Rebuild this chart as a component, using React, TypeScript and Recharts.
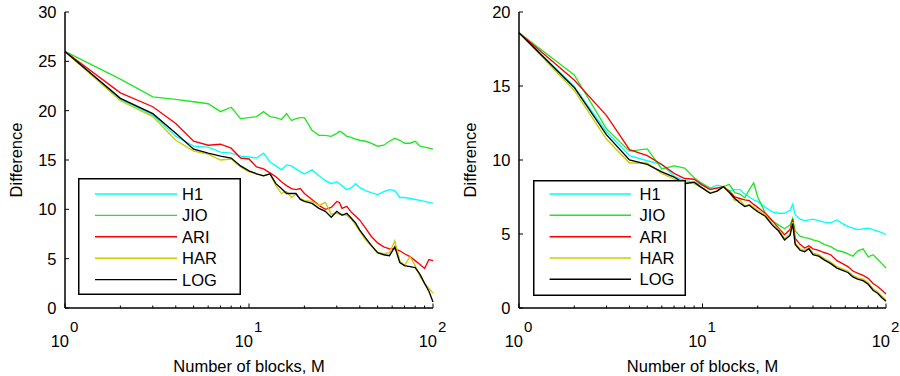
import React from 'react';
import { LineChart, Line, XAxis, YAxis, Legend } from 'recharts';

const FONT = "'Liberation Sans', Arial, Helvetica, sans-serif";

const M_VALUES = [1, 2, 3, 4, 5, 6, 7, 8, 9, 10, 11, 12, 13, 14, 15, 16, 17, 18, 19, 20, 22, 24, 26, 28, 30, 31, 32, 34, 36, 38, 40, 43, 46, 50, 54, 58, 62, 66, 70, 75, 80, 85, 90, 95, 100];

const LEFT_H1 = [26.0, 21.15, 19.55, 17.4, 16.4, 16.3, 15.8, 15.7, 15.4, 15.3, 15.2, 15.7, 14.8, 14.4, 14.0, 14.5, 14.4, 14.1, 13.8, 13.6, 14.0, 13.4, 12.9, 12.6, 12.8, 12.6, 12.4, 12.0, 12.2, 12.6, 12.2, 11.9, 11.7, 11.5, 11.8, 12.0, 11.9, 11.2, 11.2, 11.1, 11.0, 10.9, 10.8, 10.7, 10.6];
const LEFT_JIO = [26.0, 23.2, 21.4, 21.15, 20.9, 20.7, 19.9, 20.35, 19.2, 19.3, 19.4, 19.9, 19.4, 19.3, 19.1, 19.7, 19.0, 19.2, 19.3, 19.3, 18.0, 17.5, 17.5, 17.4, 17.7, 17.9, 17.8, 17.4, 17.3, 17.1, 17.0, 16.9, 16.7, 16.4, 16.5, 16.9, 17.2, 17.0, 16.7, 16.7, 16.9, 16.4, 16.3, 16.2, 16.1];
const LEFT_ARI = [26.0, 21.8, 20.4, 18.7, 16.9, 16.5, 16.6, 16.2, 15.2, 15.1, 14.3, 14.1, 13.7, 13.3, 12.8, 12.4, 12.1, 12.0, 12.1, 11.6, 11.0, 10.4, 10.0, 10.2, 10.8, 10.7, 10.1, 10.3, 9.7, 9.3, 8.9, 8.1, 7.3, 6.6, 6.2, 6.0, 6.0, 5.8, 5.5, 5.2, 4.8, 4.4, 4.0, 4.9, 4.8];
const LEFT_HAR = [26.0, 21.0, 19.4, 17.0, 15.9, 15.6, 15.0, 15.1, 14.3, 13.8, 13.6, 13.4, 13.6, 12.4, 11.6, 11.8, 11.2, 11.5, 11.1, 10.9, 10.8, 10.4, 10.7, 9.5, 9.6, 9.5, 9.5, 9.4, 9.0, 8.4, 7.8, 6.9, 6.3, 5.6, 5.5, 5.6, 6.8, 4.8, 4.3, 5.2, 4.3, 3.2, 2.5, 2.0, 1.5];
const LEFT_LOG = [26.0, 21.25, 19.7, 17.7, 16.1, 15.7, 15.4, 15.2, 14.4, 13.9, 13.6, 13.4, 13.6, 12.6, 12.1, 11.6, 11.6, 11.6, 11.0, 10.8, 10.6, 10.1, 9.8, 9.2, 9.8, 9.6, 9.4, 9.6, 9.1, 8.6, 7.9, 7.1, 6.4, 5.6, 5.4, 5.3, 6.2, 4.6, 4.3, 4.2, 4.1, 3.4, 2.5, 1.7, 0.6];

const RIGHT_H1 = [18.6, 14.95, 11.9, 10.3, 9.95, 9.7, 8.9, 8.6, 8.5, 8.3, 8.1, 8.3, 8.2, 7.9, 8.0, 8.0, 7.7, 7.5, 7.3, 7.2, 6.8, 6.5, 6.4, 6.4, 6.6, 7.0, 6.3, 6.0, 5.9, 5.95, 6.0, 5.9, 5.8, 5.75, 5.95, 5.7, 5.5, 5.4, 5.3, 5.35, 5.4, 5.3, 5.2, 5.1, 4.95];
const RIGHT_JIO = [18.6, 15.75, 12.1, 10.6, 10.75, 9.4, 9.6, 9.45, 8.8, 8.4, 8.1, 8.1, 8.2, 8.35, 7.8, 7.7, 7.45, 8.0, 8.45, 7.5, 6.4, 5.9, 5.6, 5.35, 5.6, 6.05, 5.2, 4.85, 4.75, 4.7, 4.6, 4.5, 4.3, 4.15, 3.9, 3.8, 3.65, 3.5, 3.85, 4.0, 3.45, 3.6, 3.3, 3.0, 2.7];
const RIGHT_ARI = [18.6, 15.4, 13.0, 10.7, 10.3, 9.7, 9.1, 8.75, 8.7, 8.3, 8.0, 8.1, 8.2, 7.9, 7.5, 7.4, 7.3, 7.25, 7.0, 6.8, 6.4, 5.9, 5.4, 4.95, 5.3, 6.0, 4.7, 4.3, 4.05, 4.2, 4.0, 3.9, 3.75, 3.6, 3.2, 3.0, 2.8, 2.5, 2.35, 2.2, 2.0, 1.65, 1.45, 1.2, 0.95];
const RIGHT_HAR = [18.6, 14.7, 11.4, 9.8, 9.8, 9.1, 8.7, 8.5, 8.4, 8.1, 7.8, 7.9, 8.2, 7.85, 7.25, 7.3, 6.9, 7.0, 6.8, 6.6, 6.3, 5.7, 5.3, 4.7, 5.0, 5.8, 4.4, 4.0, 3.9, 4.1, 3.7, 3.6, 3.35, 3.1, 2.8, 2.65, 2.5, 2.2, 2.05, 1.95, 1.7, 1.3, 1.1, 0.8, 0.55];
const RIGHT_LOG = [18.6, 14.9, 11.7, 10.0, 9.7, 9.2, 8.85, 8.4, 8.5, 8.1, 7.75, 7.9, 8.2, 7.8, 7.4, 7.1, 6.85, 6.95, 6.7, 6.5, 6.2, 5.6, 5.2, 4.6, 4.9, 5.7, 4.3, 3.9, 3.8, 4.0, 3.6, 3.5, 3.25, 3.0, 2.7, 2.55, 2.4, 2.1, 1.95, 1.85, 1.6, 1.2, 1.0, 0.7, 0.45];

const X_TICKS = [1, 2, 3, 4, 5, 6, 7, 8, 9, 10, 20, 30, 40, 50, 60, 70, 80, 90, 100];
const X_MAJOR = [1, 10, 100];
const LEFT_Y_TICKS = [0, 5, 10, 15, 20, 25, 30];
const RIGHT_Y_TICKS = [0, 5, 10, 15, 20];

const SERIES_NAMES = ['H1', 'JIO', 'ARI', 'HAR', 'LOG'];
const SERIES_KEYS = ['h1', 'jio', 'ari', 'har', 'log'];
const SERIES_COLORS = ['#00ffff', '#22e622', '#ff0000', '#cccc00', '#000000'];

const X_TITLE = 'Number of blocks, M';
const Y_TITLE = 'Difference';

function buildRows(series: number[][]) {
  return M_VALUES.map((m, i) => {
    const row: any = { m };
    SERIES_KEYS.forEach((k, j) => {
      row[k] = series[j][i];
    });
    return row;
  });
}

const LEFT_DATA = buildRows([LEFT_H1, LEFT_JIO, LEFT_ARI, LEFT_HAR, LEFT_LOG]);
const RIGHT_DATA = buildRows([RIGHT_H1, RIGHT_JIO, RIGHT_ARI, RIGHT_HAR, RIGHT_LOG]);

const AXIS_LINE = { stroke: '#000', strokeWidth: 1.5 };

function BottomTick(props: any) {
  const { x, y, payload } = props;
  const v = payload.value;
  const major = X_MAJOR.includes(v);
  const len = major ? 4.5 : 2.5;
  return (
    <g>
      <line x1={x} x2={x} y1={y} y2={y - len} stroke="#000" strokeWidth={1} />
      {major && (
        <g fontFamily={FONT} fill="#000">
          <text x={x + 4} y={y + 39} textAnchor="end" fontSize={16.5}>10</text>
          <text x={x + 5} y={y + 24} textAnchor="start" fontSize={15}>{Math.round(Math.log10(v))}</text>
        </g>
      )}
    </g>
  );
}

function TopTick(props: any) {
  const { x, y, payload } = props;
  const major = X_MAJOR.includes(payload.value);
  const len = major ? 4.5 : 2.5;
  return <line x1={x} x2={x} y1={y} y2={y + len} stroke="#000" strokeWidth={1} />;
}

function LeftTick(props: any) {
  const { x, y, payload } = props;
  return (
    <g>
      <line x1={x} x2={x + 4} y1={y} y2={y} stroke="#000" strokeWidth={1} />
      <text x={x - 8.5} y={y} dy="0.36em" textAnchor="end" fontSize={16.5} fontFamily={FONT} fill="#000">
        {payload.value}
      </text>
    </g>
  );
}

function RightTick(props: any) {
  const { x, y } = props;
  return <line x1={x} x2={x - 4} y1={y} y2={y} stroke="#000" strokeWidth={1} />;
}

function XTitle(props: any) {
  const vb = props.viewBox || {};
  return (
    <text x={vb.x + vb.width / 2} y={vb.y + 64} textAnchor="middle" fontSize={16.5} fontFamily={FONT} fill="#000">
      {X_TITLE}
    </text>
  );
}

function YTitle(props: any) {
  const vb = props.viewBox || {};
  const cx = vb.x + vb.width - 43;
  const cy = vb.y + vb.height / 2;
  return (
    <text x={cx} y={cy} transform={`rotate(-90 ${cx} ${cy})`} textAnchor="middle" fontSize={16.5} fontFamily={FONT} fill="#000">
      {Y_TITLE}
    </text>
  );
}

function makeLegend(w: number, h: number, lx0: number, lx1: number, tx: number, rows: number[]) {
  return (props: any) => {
    const items = [...(props.payload || [])].sort(
      (a: any, b: any) => SERIES_NAMES.indexOf(a.value) - SERIES_NAMES.indexOf(b.value)
    );
    return (
      <svg width={w} height={h} style={{ display: 'block' }}>
        <rect x={0.75} y={0.75} width={w - 1.5} height={h - 1.5} fill="#fff" stroke="#000" strokeWidth={1.5} />
        {items.map((it: any, i: number) => (
          <g key={it.value}>
            <line x1={lx0} x2={lx1} y1={rows[i]} y2={rows[i]} stroke={it.color} strokeWidth={1.4} />
            <text x={tx} y={rows[i]} dy="0.36em" fontSize={16.5} fontFamily={FONT} fill="#000">
              {it.value}
            </text>
          </g>
        ))}
      </svg>
    );
  };
}

type PanelProps = {
  data: any[];
  yMax: number;
  yTicks: number[];
  marginRight: number;
  yAxisWidth: number;
  legend: { left: number; top: number; w: number; h: number; lx0: number; lx1: number; tx: number; rows: number[] };
};

function Panel({ data, yMax, yTicks, marginRight, yAxisWidth, legend }: PanelProps) {
  const content = makeLegend(legend.w, legend.h, legend.lx0, legend.lx1, legend.tx, legend.rows);
  return (
    <LineChart width={450} height={376} data={data} margin={{ top: 12, right: marginRight, bottom: 0, left: 0 }}>
      <XAxis
        dataKey="m"
        type="number"
        scale="log"
        domain={[1, 100]}
        ticks={X_TICKS}
        interval={0}
        height={68}
        tickSize={0}
        tickMargin={0}
        tickLine={false}
        axisLine={AXIS_LINE}
        tick={BottomTick}
        label={<XTitle />}
      />
      <XAxis
        xAxisId="top"
        dataKey="m"
        orientation="top"
        type="number"
        scale="log"
        domain={[1, 100]}
        ticks={X_TICKS}
        interval={0}
        height={0}
        tickSize={0}
        tickMargin={0}
        tickLine={false}
        axisLine={AXIS_LINE}
        tick={TopTick}
      />
      <YAxis
        type="number"
        domain={[0, yMax]}
        ticks={yTicks}
        interval={0}
        width={yAxisWidth}
        tickSize={0}
        tickMargin={0}
        tickLine={false}
        axisLine={AXIS_LINE}
        tick={LeftTick}
        label={<YTitle />}
      />
      <YAxis
        yAxisId="right"
        orientation="right"
        type="number"
        domain={[0, yMax]}
        ticks={yTicks}
        interval={0}
        width={0}
        tickSize={0}
        tickMargin={0}
        tickLine={false}
        axisLine={AXIS_LINE}
        tick={RightTick}
      />
      {SERIES_KEYS.map((k, i) => (
        <Line
          key={k}
          type="linear"
          dataKey={k}
          name={SERIES_NAMES[i]}
          stroke={SERIES_COLORS[i]}
          strokeWidth={1.35}
          dot={false}
          activeDot={false}
          isAnimationActive={false}
        />
      ))}
      <Legend
        layout="vertical"
        align="center"
        verticalAlign="middle"
        content={content}
        wrapperStyle={{ position: 'absolute', left: legend.left, top: legend.top, width: legend.w, height: legend.h }}
      />
    </LineChart>
  );
}

export default function App() {
  return (
    <div style={{ position: 'absolute', left: 0, top: 0, width: 900, height: 376, background: '#fff', fontFamily: FONT }}>
      <div style={{ position: 'absolute', left: 0, top: 0, width: 450, height: 376 }}>
        <Panel
          data={LEFT_DATA}
          yMax={30}
          yTicks={LEFT_Y_TICKS}
          marginRight={17}
          yAxisWidth={65}
          legend={{ left: 78, top: 178, w: 163, h: 117, lx0: 17, lx1: 99, tx: 104, rows: [16, 37.4, 58.8, 80.2, 101.6] }}
        />
      </div>
      <div style={{ position: 'absolute', left: 450, top: 0, width: 450, height: 376 }}>
        <Panel
          data={RIGHT_DATA}
          yMax={20}
          yTicks={RIGHT_Y_TICKS}
          marginRight={14}
          yAxisWidth={69}
          legend={{ left: 83, top: 180, w: 153, h: 116, lx0: 16.6, lx1: 98, tx: 106.6, rows: [14, 35.3, 56.7, 78, 99.3] }}
        />
      </div>
    </div>
  );
}
